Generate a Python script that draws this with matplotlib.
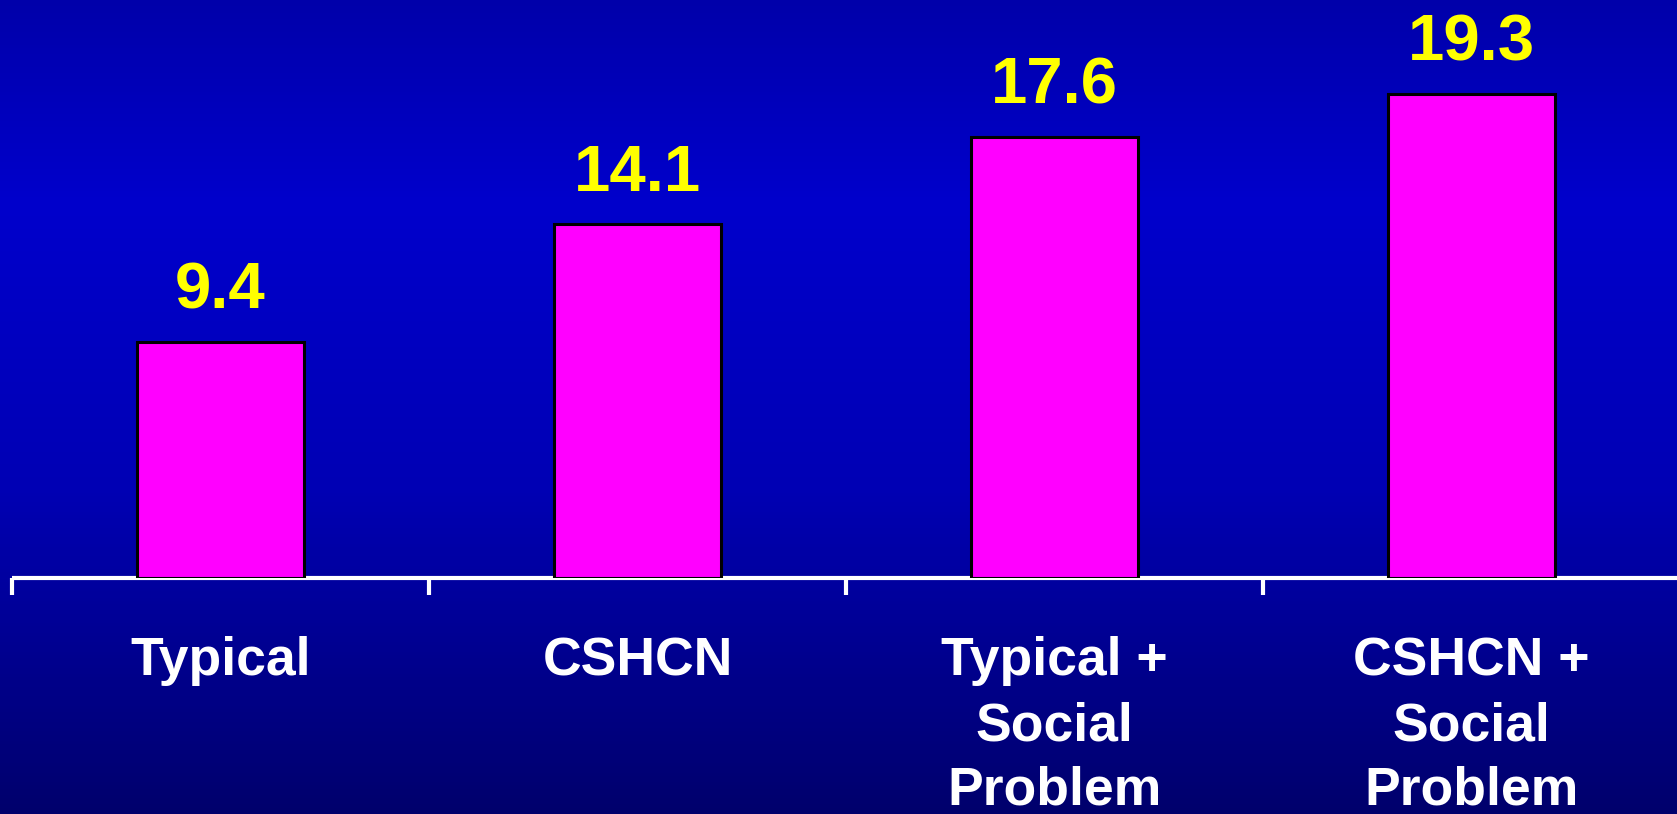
import numpy as np
import matplotlib
matplotlib.use('Agg')
import matplotlib.pyplot as plt
from matplotlib.colors import LinearSegmentedColormap

# data
categories = ['Typical', 'CSHCN', 'Typical +\nSocial\nProblem', 'CSHCN +\nSocial\nProblem']
values = [9.4, 14.1, 17.6, 19.3]

plt.rcParams['font.family'] = ['Liberation Sans', 'DejaVu Sans']
plt.rcParams['font.weight'] = 'bold'

W, H = 1677, 814
fig = plt.figure(figsize=(W / 100, H / 100), dpi=100)

# background gradient (dark blue -> brighter blue -> dark navy)
bg = fig.add_axes([0, 0, 1, 1], zorder=-10)
cmap = LinearSegmentedColormap.from_list('bg', [
    (0.0, '#0000AA'), (0.25, '#0000CC'), (0.6, '#0000B4'), (1.0, '#00006C')])
grad = np.linspace(0, 1, 256).reshape(-1, 1)
bg.imshow(grad, aspect='auto', cmap=cmap, extent=[0, 1, 1, 0])
bg.set_axis_off()

# main axes
base_px = 578
left_px = 12
cat_px = 417
ax = fig.add_axes([left_px / W, (H - base_px) / H, 4 * cat_px / W, base_px / H])
ax.patch.set_alpha(0)

x = np.arange(len(categories))
ax.bar(x, values, width=0.4, color='#FF00FF', edgecolor='black', linewidth=2.2, zorder=3)

for xi, v in zip(x, values):
    ax.annotate(f'{v}', (xi, v), xytext=(0, 24), textcoords='offset points',
                ha='center', va='baseline', fontsize=47, fontweight='bold', color='#FFFF00')

ax.set_xlim(-0.5, 3.5)
ax.set_ylim(0, base_px / 25.08)

for s in ['top', 'right', 'left']:
    ax.spines[s].set_visible(False)
ax.spines['bottom'].set_color('white')
ax.spines['bottom'].set_linewidth(3)
ax.spines['bottom'].set_capstyle('butt')
ax.set_yticks([])

ax.set_xticks(np.arange(-0.5, 4.0, 1.0))
ax.set_xticklabels([])
ax.tick_params(axis='x', which='major', direction='out', length=12, width=3, color='white')
ax.set_xticks(x, minor=True)
ax.set_xticklabels(categories, minor=True, fontsize=38.5, fontweight='bold', color='white',
                   linespacing=1.38)
ax.tick_params(axis='x', which='minor', length=0, pad=42)

fig.savefig('out.png', dpi=100)
